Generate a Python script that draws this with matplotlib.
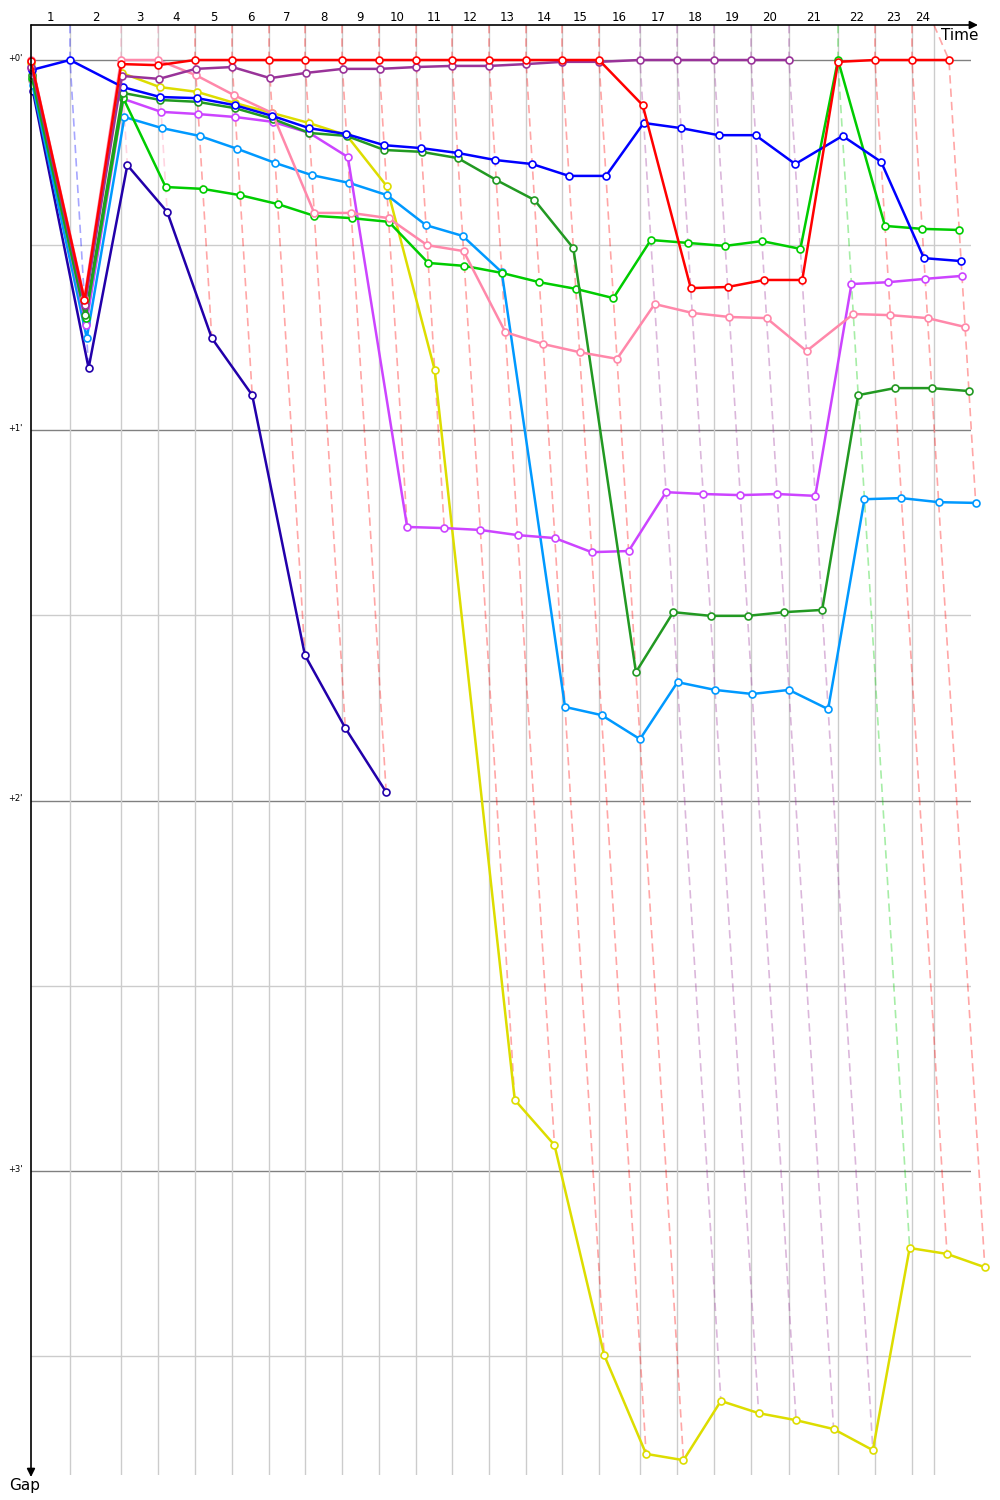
import numpy as np
import matplotlib
matplotlib.use('Agg')
import matplotlib.pyplot as plt
from matplotlib.transforms import blended_transform_factory

# leader's race time at the end of each lap (minutes), lap 0 = start
lead_t = [0.0, 1.745, 4.027, 5.682, 7.338, 8.993, 10.649, 12.260, 13.915, 15.570,
          17.226, 18.837, 20.492, 22.148, 23.758, 25.414, 27.248, 28.904, 30.559,
          32.215, 33.915, 36.107, 37.763, 39.418, 41.074]
# lap boundaries drawn as grid lines (last one cut at race end)
grid_t = lead_t[:24] + [40.403]
lap_labels = [str(i) for i in range(1, 25)]
x_end = 42.06

# gap to leader (minutes) per lap 0..24, None = not running
red = [0.003, 0.648, 0.011, 0.014, 0, 0, 0, 0, 0, 0, 0, 0, 0, 0, 0, 0,
       0.122, 0.616, 0.613, 0.594, 0.594, 0.005, 0, 0, 0]
purple = [0.019, 0.662, 0.043, 0.051, 0.024, 0.019, 0.049, 0.035, 0.024, 0.024,
          0.019, 0.016, 0.016, 0.011, 0.005, 0.005, 0, 0, 0, 0, 0,
          None, None, None, None]
blue = [0.027, 0, 0.073, 0.100, 0.103, 0.122, 0.151, 0.184, 0.200, 0.230,
        0.238, 0.251, 0.270, 0.281, 0.313, 0.313, 0.170, 0.184, 0.203, 0.203,
        0.281, 0.205, 0.275, 0.535, 0.543]
pink = [0.0, 0.643, 0, 0, 0.041, 0.095, 0.143, 0.413, 0.413, 0.427, 0.500,
        0.516, 0.735, 0.767, 0.789, 0.807, 0.659, 0.683, 0.694, 0.697, 0.786,
        0.686, 0.689, 0.697, 0.721]
dkgreen = [0.041, 0.689, 0.089, 0.108, 0.113, 0.130, 0.159, 0.197, 0.205, 0.243,
           0.248, 0.265, 0.324, 0.378, 0.508, 1.653, 1.491, 1.501, 1.501, 1.491,
           1.485, 0.905, 0.886, 0.886, 0.894]
green = [0.049, 0.697, 0.103, 0.343, 0.348, 0.365, 0.389, 0.421, 0.427, 0.437,
         0.548, 0.556, 0.575, 0.600, 0.618, 0.643, 0.486, 0.494, 0.502, 0.489,
         0.510, 0, 0.448, 0.456, 0.459]
ltblue = [0.068, 0.751, 0.154, 0.184, 0.205, 0.240, 0.278, 0.311, 0.332, 0.365,
          0.446, 0.475, 0.573, 1.747, 1.769, 1.834, 1.680, 1.701, 1.712, 1.701,
          1.753, 1.186, 1.183, 1.194, 1.196]
magenta = [0.022, 0.716, 0.105, 0.140, 0.146, 0.154, 0.167, 0.197, 0.262, 1.261,
           1.264, 1.269, 1.283, 1.291, 1.329, 1.326, 1.167, 1.172, 1.175, 1.172,
           1.177, 0.605, 0.600, 0.591, 0.583]
yellow = [0.008, 0.656, 0.035, 0.073, 0.086, 0.116, 0.143, 0.170, 0.203, 0.340,
          0.837, 2.808, 2.930, 3.497, 3.764, 3.781, 3.621, 3.654, 3.673, 3.697,
          3.754, 3.208, 3.224, 3.260, None]
navy = [0.084, 0.832, 0.284, 0.410, 0.751, 0.905, 1.607, 1.804, 1.977] + [None] * 16
gray = [0.054, 0.710, 0.097] + [None] * 22

cars = [
    (yellow, '#dddd00'),
    (navy, '#2200aa'),
    (gray, '#999999'),
    (ltblue, '#0099ff'),
    (magenta, '#cc44ff'),
    (green, '#00cc00'),
    (dkgreen, '#229922'),
    (pink, '#ff88aa'),
    (blue, '#0000ff'),
    (purple, '#993399'),
    (red, '#ff0000'),
]

y_top, y_bot = -0.0945, 3.821

fig = plt.figure(figsize=(10, 15), dpi=100)
ax = fig.add_axes([0.031, 25 / 1500, 0.94, 1450 / 1500])
ax.set_xlim(0, x_end)
ax.set_ylim(y_bot, y_top)
for s in ax.spines.values():
    s.set_visible(False)
ax.set_xticks([]); ax.set_yticks([])

# grid
for g in np.arange(0, 4, 0.5):
    c = '#808080' if g == int(g) else '#cccccc'
    ax.plot([0, x_end], [g, g], color=c, lw=1, zorder=0)
for t in grid_t[1:]:
    ax.plot([t, t], [y_top, y_bot], color='#cccccc', lw=1, zorder=0)

# lap lines (dashed, colored by leader)
for L in range(1, 25):
    running = [(g, col) for gaps, col in cars if gaps[L] is not None for g in [gaps[L]]]
    lead_col = min(running, key=lambda p: p[0])[1]
    gmax = max(p[0] for p in running)
    ax.plot([grid_t[L], lead_t[L], lead_t[L] + gmax], [y_top, 0, gmax],
            color=lead_col, alpha=0.35, lw=1.2, ls=(0, (5, 3)), zorder=1,
            clip_on=False)

# cars
for gaps, col in cars:
    xs = [lead_t[i] + g for i, g in enumerate(gaps) if g is not None]
    ys = [g for g in gaps if g is not None]
    ax.plot(xs, ys, color=col, lw=1.8, marker='o', ms=5, mfc='white',
            mec=col, mew=1.2, zorder=3, clip_on=False)

# labels
tr = blended_transform_factory(ax.transAxes, ax.transData)
for g in range(4):
    ax.text(-0.017, g - 0.005, "+%d'" % g, transform=tr, ha='center', va='center',
            fontsize=6)
trx = blended_transform_factory(ax.transData, ax.transAxes)
for i, lab in enumerate(lap_labels):
    ax.text((grid_t[i] + grid_t[i + 1]) / 2, 1.0055, lab, transform=trx,
            ha='center', va='center', fontsize=8.5)

# axis arrows
ax.annotate('', xy=(1.0074, 1), xytext=(0, 1), xycoords='axes fraction',
            arrowprops=dict(arrowstyle='-|>', color='black', lw=1.2,
                            mutation_scale=12, shrinkA=0, shrinkB=0))
ax.annotate('', xy=(0, -0.0014), xytext=(0, 1), xycoords='axes fraction',
            arrowprops=dict(arrowstyle='-|>', color='black', lw=1.2,
                            mutation_scale=12, shrinkA=0, shrinkB=0))
ax.text(0.988, 0.993, 'Time', transform=ax.transAxes, ha='center', va='center',
        fontsize=11)
ax.text(-0.0064, -0.0069, 'Gap', transform=ax.transAxes, ha='center', va='center',
        fontsize=11)

fig.savefig('out.png', dpi=100)
